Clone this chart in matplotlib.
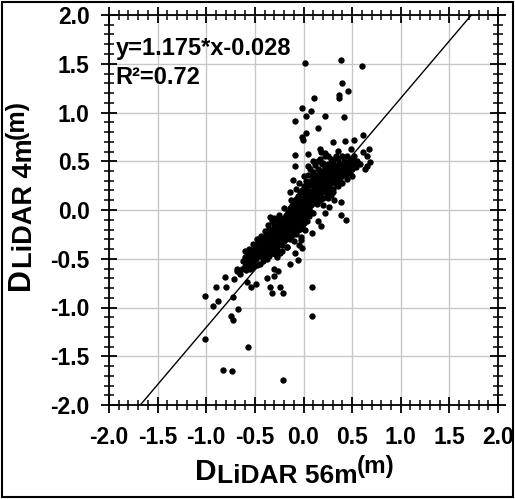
import numpy as np
import matplotlib
matplotlib.use("Agg")
import matplotlib.pyplot as plt
from matplotlib.ticker import MultipleLocator
from matplotlib.transforms import IdentityTransform
from matplotlib.patches import Rectangle

plt.rcParams['font.family'] = ['Liberation Sans', 'DejaVu Sans']
plt.rcParams['font.weight'] = 'bold'

# fit reported on the chart
slope = 1.175
intercept = -0.028
r2 = 0.72

# main band of points (D_LiDAR 56m, D_LiDAR 4m)
band_pts = [
    (-0.62, -0.52), (-0.60, -0.57), (-0.60, -0.48), (-0.58, -0.52), (-0.57, -0.45),
    (-0.57, -0.55), (-0.55, -0.50), (-0.55, -0.43), (-0.54, -0.56), (-0.53, -0.47),
    (-0.52, -0.41), (-0.52, -0.52), (-0.50, -0.45), (-0.50, -0.38), (-0.49, -0.50),
    (-0.48, -0.42), (-0.47, -0.35), (-0.47, -0.47), (-0.46, -0.40), (-0.45, -0.44),
    (-0.45, -0.33), (-0.44, -0.38), (-0.43, -0.48), (-0.43, -0.31), (-0.42, -0.36),
    (-0.42, -0.42), (-0.41, -0.29), (-0.40, -0.34), (-0.40, -0.45), (-0.40, -0.40),
    (-0.39, -0.27), (-0.38, -0.37), (-0.38, -0.31), (-0.37, -0.43), (-0.37, -0.22),
    (-0.36, -0.33), (-0.36, -0.27), (-0.35, -0.38), (-0.35, -0.19), (-0.34, -0.30),
    (-0.34, -0.24), (-0.34, -0.07), (-0.33, -0.35), (-0.33, -0.41), (-0.32, -0.27),
    (-0.32, -0.20), (-0.32, -0.11), (-0.31, -0.32), (-0.30, -0.24), (-0.30, -0.37),
    (-0.30, -0.15), (-0.30, -0.08), (-0.29, -0.29), (-0.29, -0.45), (-0.28, -0.21),
    (-0.28, -0.33), (-0.27, -0.26), (-0.27, -0.10), (-0.27, -0.40), (-0.26, -0.18),
    (-0.26, -0.30), (-0.25, -0.23), (-0.25, -0.35), (-0.25, -0.13), (-0.24, -0.27),
    (-0.24, -0.19), (-0.24, -0.44), (-0.23, -0.15), (-0.23, -0.31), (-0.23, -0.22),
    (-0.22, -0.25), (-0.22, -0.10), (-0.22, -0.36), (-0.21, -0.19), (-0.21, -0.28),
    (-0.21, -0.14), (-0.20, -0.22), (-0.20, -0.08), (-0.20, -0.32), (-0.20, -0.17),
    (-0.19, -0.26), (-0.19, -0.12), (-0.19, -0.20), (-0.18, -0.15), (-0.18, -0.30),
    (-0.18, -0.05), (-0.18, -0.23), (-0.17, -0.18), (-0.17, -0.10), (-0.17, -0.38),
    (-0.16, -0.21), (-0.16, -0.13), (-0.16, -0.27), (-0.16, -0.02), (-0.15, -0.16),
    (-0.15, -0.08), (-0.15, -0.24), (-0.14, -0.11), (-0.14, -0.19), (-0.14, -0.30),
    (-0.14, 0.02), (-0.13, -0.14), (-0.13, -0.05), (-0.13, -0.22), (-0.12, -0.09),
    (-0.12, -0.17), (-0.12, 0.05), (-0.12, -0.26), (-0.11, -0.12), (-0.11, -0.02),
    (-0.11, -0.20), (-0.10, -0.06), (-0.10, -0.15), (-0.10, 0.08), (-0.10, -0.32),
    (-0.10, -0.23), (-0.09, -0.10), (-0.09, 0.00), (-0.09, -0.18), (-0.08, -0.04),
    (-0.08, -0.13), (-0.08, 0.11), (-0.08, -0.25), (-0.07, -0.08), (-0.07, 0.03),
    (-0.07, -0.16), (-0.06, -0.02), (-0.06, -0.11), (-0.06, 0.14), (-0.06, -0.21),
    (-0.05, -0.06), (-0.05, 0.06), (-0.05, -0.14), (-0.05, -0.36), (-0.04, 0.00),
    (-0.04, -0.09), (-0.04, 0.18), (-0.04, -0.19), (-0.03, -0.04), (-0.03, 0.09),
    (-0.03, -0.12), (-0.03, -0.28), (-0.02, 0.02), (-0.02, -0.07), (-0.02, 0.21),
    (-0.02, -0.16), (-0.01, -0.01), (-0.01, 0.12), (-0.01, -0.10), (0.00, 0.04),
    (0.00, -0.05), (0.00, 0.25), (0.00, -0.13), (0.00, 0.15), (0.01, 0.01),
    (0.01, 0.08), (0.01, -0.08), (0.02, 0.06), (0.02, -0.03), (0.02, 0.18),
    (0.02, -0.20), (0.03, 0.03), (0.03, 0.11), (0.03, 0.30), (0.04, 0.08),
    (0.04, -0.01), (0.04, 0.22), (0.04, -0.11), (0.05, 0.05), (0.05, 0.14),
    (0.05, 0.36), (0.06, 0.10), (0.06, 0.02), (0.06, 0.26), (0.06, -0.06),
    (0.07, 0.07), (0.07, 0.17), (0.07, 0.42), (0.08, 0.12), (0.08, 0.05),
    (0.08, 0.30), (0.08, -0.02), (0.09, 0.10), (0.09, 0.20), (0.09, 0.35),
    (0.10, 0.14), (0.10, 0.07), (0.10, 0.25), (0.10, 0.39), (0.10, -0.03),
    (0.11, 0.12), (0.11, 0.22), (0.12, 0.17), (0.12, 0.10), (0.12, 0.30),
    (0.12, 0.46), (0.13, 0.15), (0.13, 0.25), (0.14, 0.19), (0.14, 0.12),
    (0.14, 0.34), (0.14, 0.06), (0.15, 0.17), (0.15, 0.28), (0.15, 0.42),
    (0.16, 0.22), (0.16, 0.14), (0.16, 0.37), (0.17, 0.20), (0.17, 0.31),
    (0.17, 0.10), (0.17, 0.52), (0.18, 0.24), (0.18, 0.17), (0.18, 0.40),
    (0.19, 0.22), (0.19, 0.34), (0.19, 0.47), (0.20, 0.27), (0.20, 0.19),
    (0.20, 0.38), (0.20, 0.12), (0.21, 0.25), (0.21, 0.31), (0.22, 0.29),
    (0.22, 0.21), (0.22, 0.43), (0.22, 0.55), (0.23, 0.27), (0.23, 0.35),
    (0.24, 0.31), (0.24, 0.24), (0.24, 0.40), (0.24, 0.16), (0.25, 0.29),
    (0.25, 0.37), (0.25, 0.47), (0.26, 0.33), (0.26, 0.26), (0.26, 0.43),
    (0.27, 0.31), (0.27, 0.38), (0.27, 0.20), (0.28, 0.35), (0.28, 0.28),
    (0.28, 0.45), (0.29, 0.33), (0.29, 0.40), (0.30, 0.37), (0.30, 0.30),
    (0.30, 0.44), (0.30, 0.22), (0.31, 0.35), (0.31, 0.41), (0.32, 0.39),
    (0.32, 0.32), (0.32, 0.46), (0.33, 0.37), (0.33, 0.27), (0.34, 0.41),
    (0.34, 0.34), (0.34, 0.44), (0.35, 0.39), (0.35, 0.31), (0.36, 0.43),
    (0.36, 0.36), (0.36, 0.47), (0.37, 0.40), (0.37, 0.33), (0.38, 0.44),
    (0.38, 0.38), (0.38, 0.30), (0.40, 0.42), (0.40, 0.47), (0.40, 0.35),
    (0.42, 0.45), (0.42, 0.39), (0.42, 0.50), (0.44, 0.43), (0.44, 0.48),
    (0.44, 0.37), (0.46, 0.47), (0.46, 0.41), (0.48, 0.50), (0.48, 0.44),
    (0.48, 0.38), (0.50, 0.52), (0.50, 0.46), (0.50, 0.42), (0.52, 0.49),
    (0.52, 0.55), (0.54, 0.48), (0.54, 0.44),
    (-0.63, -0.60), (-0.59, -0.62), (-0.55, -0.60), (-0.52, -0.58), (-0.48, -0.56),
    (-0.45, -0.55), (-0.42, -0.52), (-0.60, -0.42), (-0.56, -0.40), (-0.52, -0.35),
    (-0.48, -0.30), (-0.44, -0.27), (-0.40, -0.22), (-0.36, -0.15), (-0.38, -0.50),
    (-0.35, -0.47), (-0.31, -0.44), (-0.28, -0.40), (0.15, 0.50), (0.25, 0.55),
    (0.30, 0.50), (0.35, 0.52), (0.40, 0.55), (0.20, 0.05), (0.25, 0.12),
    (0.30, 0.18), (0.35, 0.25), (0.40, 0.28), (0.45, 0.32), (0.50, 0.35),
    (0.28, 0.15), (0.05, 0.45), (0.00, 0.35), (-0.05, 0.28), (-0.08, 0.22),
]

# points scattered away from the band
spread_pts = [
    (0.02, 1.51), (0.39, 1.54), (0.60, 1.48), (0.40, 1.30), (0.46, 1.22),
    (0.37, 1.18), (0.37, 1.15), (0.11, 1.15), (-0.02, 1.05), (0.08, 1.02),
    (0.03, 0.96), (0.22, 0.96), (0.42, 0.95), (-0.09, 0.91), (0.15, 0.84),
    (0.03, 0.79), (-0.02, 0.75), (-0.01, 0.72), (0.43, 0.71), (0.30, 0.70),
    (0.52, 0.72), (0.61, 0.77), (0.17, 0.63), (0.18, 0.60), (0.22, 0.58),
    (0.67, 0.63), (0.61, 0.60), (0.49, 0.63), (0.35, 0.61), (0.05, 0.57),
    (-0.09, 0.56), (0.65, 0.55), (0.68, 0.49), (0.65, 0.45), (0.63, 0.42),
    (0.10, 0.50), (-0.09, 0.45), (-0.11, 0.31), (-0.14, 0.18), (0.39, 0.08),
    (0.39, -0.05), (0.44, -0.10), (-0.17, -0.07), (0.09, -0.24), (-0.06, -0.51),
    (-0.14, -0.55), (-0.30, -0.61), (-0.26, -0.63), (-0.38, -0.70), (-0.30, -0.68),
    (-0.34, -0.79), (-0.24, -0.79), (-0.21, -0.85), (-0.32, -0.85), (0.09, -0.79),
    (0.09, -1.09), (-0.21, -1.74), (-0.57, -1.40), (-0.67, -1.02), (-0.75, -1.09),
    (-0.72, -1.13), (-0.73, -0.89), (-0.80, -0.79), (-0.90, -0.79), (-0.81, -0.69),
    (-1.01, -0.88), (-1.01, -1.32), (-0.93, -0.98), (-0.88, -0.93), (-0.83, -1.64),
    (-0.74, -1.65), (-0.58, -0.74), (-0.54, -0.79), (-0.49, -0.76), (-0.56, -0.58),
    (-0.68, -0.60), (-0.65, -0.66), (-0.71, -0.71), (-0.68, -0.63), (0.15, -0.11),
    (0.26, 0.03), (0.31, 0.10), (0.22, -0.03), (0.18, -0.16), (-0.03, -0.31),
    (-0.02, -0.39), (-0.17, -0.38), (-0.22, -0.42), (-0.27, -0.48), (-0.09, -0.44),
    (-0.13, 0.10), (-0.20, 0.02), (-0.25, -0.05), (0.12, 0.36), (0.20, 0.48),
    (0.28, 0.52), (0.33, 0.55), (0.45, 0.55), (0.55, 0.50), (0.58, 0.47),
]

ticks = [-2.0, -1.5, -1.0, -0.5, 0.0, 0.5, 1.0, 1.5, 2.0]
tick_labels = ['-2.0', '-1.5', '-1.0', '-0.5', '0.0', '0.5', '1.0', '1.5', '2.0']

W, H = 515, 499
fig = plt.figure(figsize=(W / 100, H / 100), dpi=100)
ax = fig.add_axes([109 / W, 1 - 405 / H, 389 / W, 390 / H])

pts = np.array(band_pts + spread_pts)
ax.scatter(pts[:, 0], pts[:, 1], s=21, color='black', linewidths=0, zorder=3)

# regression line clipped to the plot box
x_fit = np.array([(-2.0 - intercept) / slope, (2.0 - intercept) / slope])
ax.plot(x_fit, slope * x_fit + intercept, color='black', lw=1.0, zorder=4)

ax.set_xlim(-2, 2)
ax.set_ylim(-2, 2)
ax.set_xticks(ticks)
ax.set_yticks(ticks)
ax.xaxis.set_minor_locator(MultipleLocator(0.1))
ax.yaxis.set_minor_locator(MultipleLocator(0.1))
ax.tick_params(which='major', direction='inout', length=12, width=1.3,
               top=True, right=True, labelsize=16.5)
ax.tick_params(axis='x', which='major', pad=9)
ax.tick_params(axis='y', which='major', pad=8)
ax.tick_params(which='minor', direction='inout', length=7, width=1.1,
               top=True, right=True)
ax.set_xticklabels(tick_labels, fontweight='bold', fontsize=16.5)
ax.set_yticklabels(tick_labels, fontweight='bold', fontsize=16.5)
ax.grid(which='major', color='#c8c8c8', lw=1.0)
ax.set_axisbelow(True)
for sp in ax.spines.values():
    sp.set_linewidth(1.3)

ax.text(-1.93, 1.66, f'y={slope}*x{intercept:+.3f}', fontsize=17,
        fontweight='bold', va='center', ha='left', zorder=5)
ax.text(-1.93, 1.36, f'R\u00b2={r2}', fontsize=17,
        fontweight='bold', va='center', ha='left', zorder=5)


def pieced_label(x, y, parts, vertical=False):
    # draw text pieces one after another, in pixels, with their own size and shift
    renderer = fig.canvas.get_renderer()
    rot = 90 if vertical else 0
    items = []
    total = 0.0
    for s, size, shift in parts:
        t = fig.text(0, 0, s, fontsize=size, fontweight='bold', rotation=rot,
                     rotation_mode='anchor', ha='left', va='baseline',
                     transform=IdentityTransform())
        bb = t.get_window_extent(renderer)
        adv = bb.height if vertical else bb.width
        items.append((t, adv, shift))
        total += adv
    pos = -total / 2
    for t, adv, shift in items:
        if vertical:
            t.set_position((x - shift, y + pos))
        else:
            t.set_position((x + pos, y + shift))
        pos += adv


pieced_label(295, 19, [('D', 21.5, 0), ('LiDAR 56m', 19, -3), ('(m)', 17.5, 7)])
pieced_label(29, 304, [('D', 22, 0), ('LiDAR 4m', 19.5, -3), ('(m)', 18, 5)],
             vertical=True)

fig.patches.append(Rectangle((2, 2), W - 4, H - 4, transform=IdentityTransform(),
                             fill=False, edgecolor='black', lw=1.5))

fig.savefig('out.png', dpi=100)
